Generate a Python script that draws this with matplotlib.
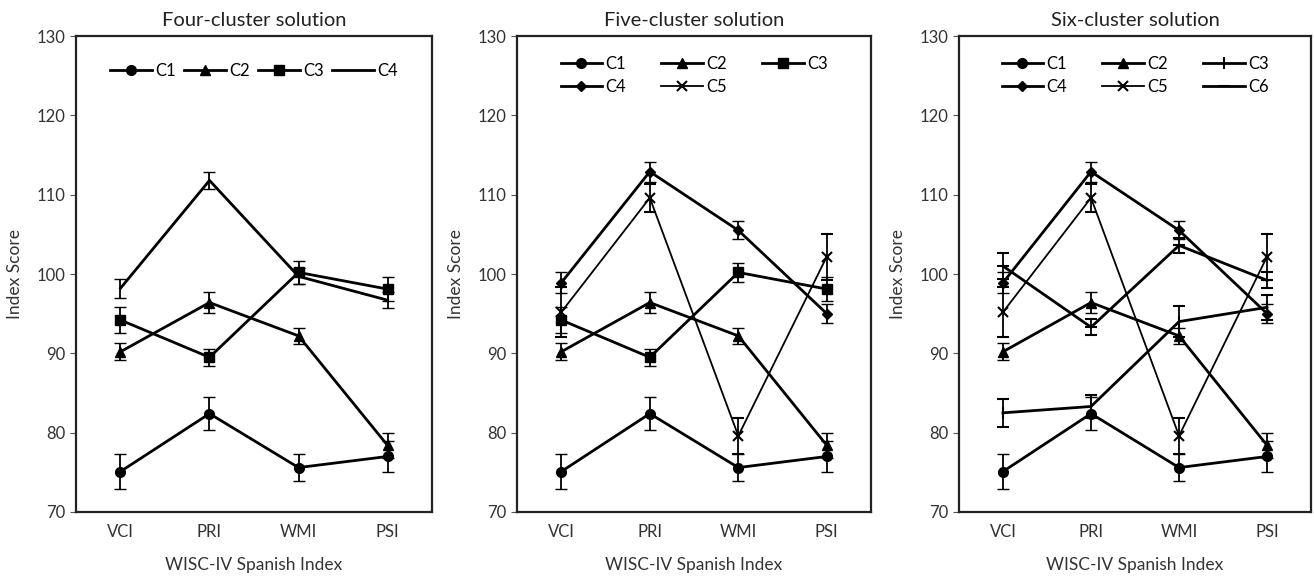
import matplotlib
matplotlib.use("Agg")
import matplotlib.pyplot as plt

plt.rcParams['font.family'] = ['Lato', 'DejaVu Sans']

categories = ["VCI", "PRI", "WMI", "PSI"]

# shared cluster profiles (mean, error)
c1_mean = [75.1, 82.4, 75.6, 77.0]
c1_err = [2.2, 2.1, 1.75, 1.9]
c2_mean = [90.2, 96.4, 92.2, 78.4]
c2_err = [1.1, 1.3, 1.05, 1.6]

# four-cluster solution
four_c3_mean = [94.2, 89.5, 100.2, 98.1]
four_c3_err = [1.6, 1.1, 1.4, 1.5]
four_c4_mean = [98.2, 111.8, 99.7, 96.7]
four_c4_err = [1.2, 1.1, 1.0, 1.0]

# five-cluster solution
five_c3_mean = [94.2, 89.5, 100.2, 98.1]
five_c3_err = [1.6, 1.1, 1.2, 1.5]
five_c4_mean = [98.9, 112.9, 105.5, 95.0]
five_c4_err = [1.3, 1.25, 1.15, 1.2]
five_c5_mean = [95.2, 109.6, 79.6, 102.2]
five_c5_err = [3.2, 1.8, 2.3, 2.9]

# six-cluster solution
six_c3_mean = [82.5, 83.3, 94.0, 95.8]
six_c3_err = [1.8, 1.5, 2.0, 1.6]
six_c4_mean = [98.9, 112.9, 105.5, 95.0]
six_c4_err = [1.3, 1.25, 1.15, 1.2]
six_c5_mean = [95.2, 109.6, 79.6, 102.2]
six_c5_err = [3.2, 1.8, 2.3, 2.9]
six_c6_mean = [101.0, 93.3, 103.6, 99.2]
six_c6_err = [1.6, 1.05, 0.9, 1.0]

titles = ["Four-cluster solution", "Five-cluster solution", "Six-cluster solution"]

panels = [
    [("C1", c1_mean, c1_err, "o", 7, 2.0),
     ("C2", c2_mean, c2_err, "^", 7, 2.0),
     ("C3", four_c3_mean, four_c3_err, "s", 7, 2.0),
     ("C4", four_c4_mean, four_c4_err, "None", 0, 2.0)],
    [("C1", c1_mean, c1_err, "o", 7, 2.0),
     ("C2", c2_mean, c2_err, "^", 7, 2.0),
     ("C3", five_c3_mean, five_c3_err, "s", 7, 2.0),
     ("C4", five_c4_mean, five_c4_err, "D", 5, 2.0),
     ("C5", five_c5_mean, five_c5_err, "x", 7, 1.3)],
    [("C1", c1_mean, c1_err, "o", 7, 2.0),
     ("C2", c2_mean, c2_err, "^", 7, 2.0),
     ("C3", six_c3_mean, six_c3_err, "|", 9, 2.0),
     ("C4", six_c4_mean, six_c4_err, "D", 5, 2.0),
     ("C5", six_c5_mean, six_c5_err, "x", 7, 1.3),
     ("C6", six_c6_mean, six_c6_err, "_", 9, 2.0)],
]

fig = plt.figure(figsize=(13.14, 5.78), dpi=100)
lefts = [0.0578, 0.3935, 0.7298]
widths = [0.271, 0.2694, 0.268]
x = list(range(len(categories)))
textc = "#333333"

for i, (title, series) in enumerate(zip(titles, panels)):
    ax = fig.add_axes([lefts[i], 0.1142, widths[i], 0.8235])
    for name, m, e, mk, ms, lw in series:
        ax.errorbar(x, m, yerr=e, color="black", marker=mk, markersize=ms,
                    markeredgewidth=1.5 if mk in ("x", "|", "_") else 1.0,
                    linewidth=lw, elinewidth=1.3, capsize=4, capthick=1.3,
                    label=name)
    ax.set_xlim(-0.5, 3.5)
    ax.set_ylim(70, 130)
    ax.set_yticks([70, 80, 90, 100, 110, 120, 130])
    ax.set_xticks(x)
    ax.set_xticklabels(categories)
    ax.tick_params(axis="x", length=0, pad=9, labelsize=12, labelcolor=textc)
    ax.tick_params(axis="y", length=4, direction="out", labelsize=12,
                   labelcolor=textc, color="#555555")
    for s in ax.spines.values():
        s.set_linewidth(1.6)
        s.set_color("#222222")
    ax.set_title(title, fontsize=14.5, color="#222222", pad=7)
    ax.set_xlabel("WISC-IV Spanish Index", fontsize=12.5, color=textc, labelpad=12)
    ax.set_ylabel("Index Score", fontsize=12.5, color=textc, labelpad=10)
    handles, labels = ax.get_legend_handles_labels()
    handles = [h[0] for h in handles]
    if len(series) == 4:
        ncol = 4
        order = list(range(4))
        anchor = (0.5, 0.975)
        cs = 0.5
        hl = 2.5
    else:
        ncol = 3
        # row-major layout for column-major filling
        order = [0, 3, 1, 4, 2] if len(series) == 5 else [0, 3, 1, 4, 2, 5]
        anchor = (0.5, 0.99)
        cs = 2.1
        hl = 2.5
    ax.legend([handles[k] for k in order], [labels[k] for k in order],
              ncol=ncol, loc="upper center",
              bbox_to_anchor=anchor, frameon=False, fontsize=12,
              handlelength=hl, handletextpad=0.2, columnspacing=cs,
              labelspacing=0.45)

fig.savefig("out.png", dpi=100)
